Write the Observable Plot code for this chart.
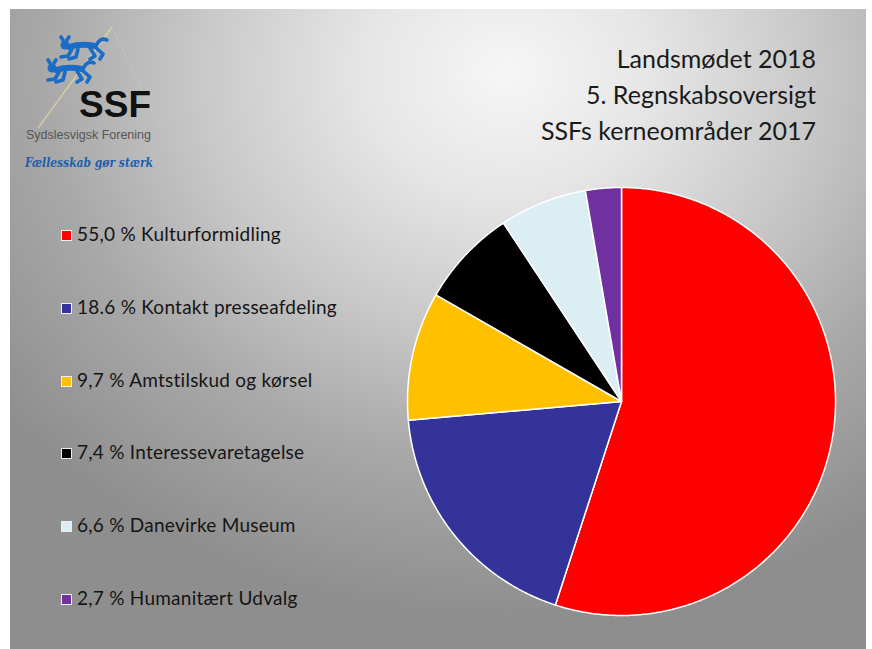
<!DOCTYPE html>
<html>
<head>
<meta charset="utf-8">
<script src="https://cdn.jsdelivr.net/npm/d3@7"></script>
<script src="https://cdn.jsdelivr.net/npm/@observablehq/plot@0.6"></script>
<style>
  html, body { margin: 0; padding: 0; background: #ffffff; }
  #page { position: relative; width: 872px; height: 649px; overflow: hidden; background: #fff; }
  #slide {
    position: absolute; left: 10px; top: 9px; width: 856px; height: 640px;
    background: radial-gradient(ellipse 75% 85% at 58% 10%, #f6f6f6 0%, #e6e6e6 22%, #c8c8c8 48%, #a8a8a8 72%, #8e8e8e 100%);
  }
  #title {
    position: absolute; right: 56px; top: 40px; text-align: right;
    font-family: Lato, "Open Sans", sans-serif; font-size: 25px; line-height: 36px; color: #1a1a1a;
  }
  .leg { position: absolute; left: 62px; font-family: Lato, sans-serif; font-size: 19px; letter-spacing: 0.25px; color: #151515; white-space: nowrap; }
  .leg .sw { display: inline-block; width: 9px; height: 9px; margin-right: 6px; box-shadow: 0 0 0 1px rgba(255,255,255,0.85); vertical-align: 1px; }
  #plot { position: absolute; left: 0; top: 0; }
</style>
</head>
<body>
<div id="page">
  <div id="slide"></div>
  <svg id="logo" width="170" height="180" style="position:absolute;left:0;top:0">
    <path d="M112,27 L38,128" stroke="#e6d8a0" stroke-width="1.5" opacity="0.7" fill="none"/>
    <path d="M112,27 L160,128" stroke="#e6d8a0" stroke-width="1" opacity="0.3" fill="none"/>
    <defs>
      <g id="lion" fill="none" stroke="#1b6cc4" stroke-width="3.6" stroke-linecap="round" stroke-linejoin="round">
        <circle cx="8" cy="8" r="4.5" fill="#1b6cc4" stroke="none"/>
        <path d="M12,10 Q24,6 38,9" stroke-width="6"/>
        <path d="M15,12 L11,19 L4,20"/>
        <path d="M21,12 L19,20 L12,22"/>
        <path d="M33,11 L38,19 L33,22"/>
        <path d="M38,10 L46,17 L43,22"/>
        <path d="M40,7 Q44,0 50,3"/>
        <path d="M6,3 L4,0 M10,3 L12,0"/>
      </g>
    </defs>
    <use href="#lion" x="57" y="37"/>
    <use href="#lion" x="44" y="60"/>
    <text x="151" y="117" text-anchor="end" font-family="Liberation Sans, Arial, sans-serif" font-weight="bold" font-size="37" fill="#111">SSF</text>
    <text x="26" y="139" font-family="Liberation Sans Narrow, Liberation Sans, sans-serif" font-size="12" fill="#555" textLength="125" lengthAdjust="spacingAndGlyphs">Sydslesvigsk Forening</text>
    <text x="25" y="167" font-family="DejaVu Serif, serif" font-style="italic" font-weight="bold" font-size="12" fill="#1d5fae" textLength="128" lengthAdjust="spacingAndGlyphs">Fællesskab gør stærk</text>
  </svg>
  <div id="title">Landsmødet 2018<br>5. Regnskabsoversigt<br>SSFs kerneområder 2017</div>
  <div id="legend"></div>
  <div id="plot"></div>
</div>
<script>
const categories = ["Kulturformidling", "Kontakt presseafdeling", "Amtstilskud og kørsel", "Interessevaretagelse", "Danevirke Museum", "Humanitært Udvalg"];
const shares = [55.0, 18.6, 9.7, 7.4, 6.6, 2.7];
const shareLabels = ["55,0", "18.6", "9,7", "7,4", "6,6", "2,7"];
const colors = ["#ff0000", "#333399", "#ffc000", "#000000", "#daeef3", "#7030a0"];

// legend
const legendTops = [222, 295, 368, 440, 513, 586];
const legend = document.getElementById("legend");
categories.forEach((c, i) => {
  const d = document.createElement("div");
  d.className = "leg";
  d.style.top = legendTops[i] + "px";
  d.innerHTML = `<span class="sw" style="background:${colors[i]}"></span>${shareLabels[i]} % ${c}`;
  legend.appendChild(d);
});

// pie geometry from values (clockwise from 12 o'clock)
const table = categories.map((c, i) => ({category: c, value: shares[i]}));
const arcs = d3.pie().value(d => d.value).sort(null)(table);
const pts = [];
arcs.forEach(a => {
  pts.push({category: a.data.category, x: 0, y: 0});
  const n = Math.max(2, Math.ceil((a.endAngle - a.startAngle) / (Math.PI / 360)));
  for (let k = 0; k <= n; k++) {
    const t = a.startAngle + (a.endAngle - a.startAngle) * k / n;
    pts.push({category: a.data.category, x: Math.sin(t), y: Math.cos(t)});
  }
});

const cx = 621, cy = 401, r = 214;
const chart = Plot.plot({
  width: 872,
  height: 649,
  style: {background: "transparent", overflow: "visible"},
  x: {domain: [-1, 1], range: [cx - r, cx + r], axis: null},
  y: {domain: [-1, 1], range: [cy + r, cy - r], axis: null},
  color: {domain: categories, range: colors},
  marks: [
    Plot.line(pts, {x: "x", y: "y", z: "category", fill: "category", stroke: "#ffffff", strokeWidth: 1.5, strokeLinejoin: "round", curve: "linear-closed"})
  ]
});
document.getElementById("plot").appendChild(chart);
</script>
</body>
</html>
